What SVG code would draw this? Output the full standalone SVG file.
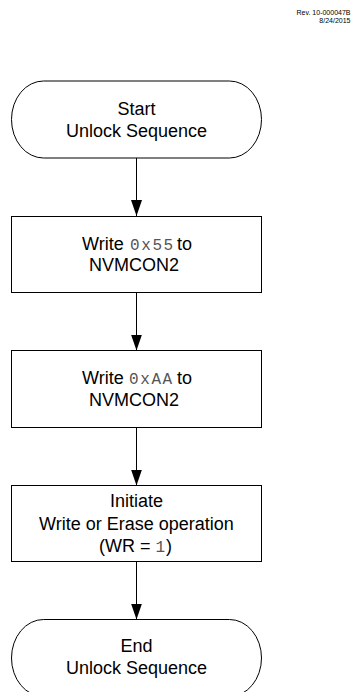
<svg xmlns="http://www.w3.org/2000/svg" width="352" height="692" viewBox="0 0 352 692">
<style>
.shape{fill:#fff;stroke:#000;stroke-width:1}
.t{font-family:"Liberation Sans",Arial,sans-serif;font-size:18px;fill:#000}
.c{text-anchor:middle}
.m{font-family:"Liberation Mono","Courier New",monospace;font-size:16px;fill:#555;letter-spacing:1.6px}
.rev{font-family:"Liberation Sans",Arial,sans-serif;font-size:7px;fill:#000;text-anchor:end}
.conn{stroke:#000;stroke-width:1;fill:none}
</style>
<defs>
<marker id="ah" markerUnits="userSpaceOnUse" markerWidth="16" markerHeight="11" refX="16" refY="5.5" orient="auto">
<path d="M0,0 L16,5.5 L0,11 Z" fill="#000"/>
</marker>
</defs>
<rect width="352" height="692" fill="#fff"/>
<text class="rev" x="350.5" y="15">Rev. 10-000047B</text>
<text class="rev" x="350.5" y="22.5">8/24/2015</text>
<g id="connectors">
<line class="conn" x1="136.5" y1="158" x2="136.5" y2="216" marker-end="url(#ah)"/>
<line class="conn" x1="136.5" y1="292.5" x2="136.5" y2="350.5" marker-end="url(#ah)"/>
<line class="conn" x1="136.5" y1="427.5" x2="136.5" y2="485.5" marker-end="url(#ah)"/>
<line class="conn" x1="136.5" y1="561.5" x2="136.5" y2="619.5" marker-end="url(#ah)"/>
</g>
<g id="start">
<path class="shape" d="M43.5,81 H229.5 A32,38.5 0 0 1 229.5,158 H43.5 A32,38.5 0 0 1 43.5,81 Z"/>
<text class="t c" x="136.5" y="115">Start</text>
<text class="t c" x="136.5" y="137">Unlock Sequence</text>
</g>
<g id="write55">
<rect class="shape" x="11.5" y="216.5" width="250" height="76"/>
<text class="t" x="82" y="249.5">Write</text>
<text class="m" x="130" y="249.5">0x55</text>
<text class="t" x="177" y="249.5">to</text>
<text class="t" x="89" y="271">NVMCON2</text>
</g>
<g id="writeAA">
<rect class="shape" x="11.5" y="350.5" width="250" height="77"/>
<text class="t" x="82" y="384">Write</text>
<text class="m" x="129" y="384">0xAA</text>
<text class="t" x="177" y="384">to</text>
<text class="t" x="89" y="406">NVMCON2</text>
</g>
<g id="initiate">
<rect class="shape" x="11.5" y="485.5" width="250" height="76"/>
<text class="t c" x="136.5" y="507">Initiate</text>
<text class="t c" x="136.5" y="529.5">Write or Erase operation</text>
<text class="t" x="99" y="551.5">(WR = </text>
<text class="m" x="155.5" y="551.5">1</text>
<text class="t" x="166" y="551.5">)</text>
</g>
<g id="end">
<path class="shape" d="M43.5,619.5 H229.5 A32,38.5 0 0 1 229.5,696.5 H43.5 A32,38.5 0 0 1 43.5,619.5 Z"/>
<text class="t c" x="136.5" y="652">End</text>
<text class="t c" x="136.5" y="674">Unlock Sequence</text>
</g>
</svg>
